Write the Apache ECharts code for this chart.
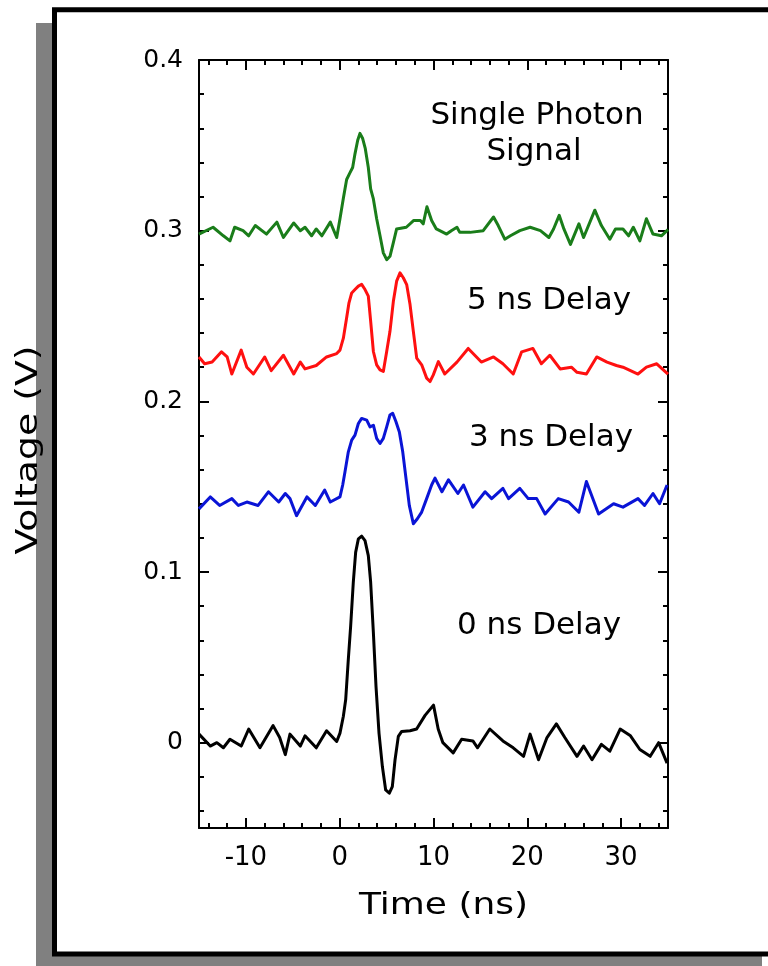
<!DOCTYPE html>
<html>
<head>
<meta charset="utf-8">
<script src="https://cdn.jsdelivr.net/npm/echarts@6/dist/echarts.min.js"></script>
<style>
html,body{margin:0;padding:0;background:#fff;}
#chart{width:768px;height:966px;}
</style>
</head>
<body>
<div id="chart"></div>
<script>
// ---- data (time in ns, voltage in V) ----
const singlePhoton = [
[-15,0.298],[-13.5,0.302],[-12.4,0.297],[-11.7,0.294],[-11.2,0.302],[-10.3,0.300],[-9.7,0.297],[-9.0,0.303],
[-7.8,0.298],[-6.7,0.305],[-6.0,0.296],[-4.9,0.3045],[-4.2,0.300],[-3.7,0.302],[-3.0,0.297],[-2.5,0.301],
[-1.9,0.297],[-1.0,0.305],[-0.32,0.296],[0.03,0.307],[0.39,0.319],[0.74,0.330],[1.10,0.334],[1.38,0.337],
[1.63,0.345],[1.92,0.353],[2.16,0.357],[2.45,0.354],[2.73,0.348],[3.05,0.337],[3.30,0.3245],[3.59,0.3186],
[3.94,0.307],[4.30,0.297],[4.65,0.287],[5.01,0.283],[5.36,0.285],[5.72,0.293],[6.07,0.301],
[7.1,0.302],[7.9,0.306],[8.6,0.306],[8.9,0.304],[9.3,0.314],[9.8,0.306],[10.3,0.301],[11.4,0.298],
[11.9,0.300],[12.5,0.302],[12.8,0.299],[13.9,0.299],[15.3,0.300],[16.4,0.308],[16.9,0.303],[17.6,0.295],
[18.2,0.297],[19.2,0.300],[20.3,0.302],[21.4,0.300],[22.3,0.296],[22.8,0.301],[23.4,0.309],[23.9,0.301],
[24.6,0.292],[25.5,0.304],[26.0,0.296],[27.2,0.312],[27.9,0.303],[28.8,0.295],[29.4,0.301],[30.2,0.301],
[30.8,0.297],[31.3,0.302],[32.0,0.294],[32.7,0.307],[33.4,0.298],[34.3,0.297],[35.0,0.3006]
];
const delay5 = [
[-15,0.226],[-14.4,0.222],[-13.6,0.223],[-12.6,0.229],[-12.0,0.226],[-11.5,0.216],[-10.5,0.230],[-9.9,0.220],
[-9.2,0.216],[-8.0,0.226],[-7.3,0.218],[-6.0,0.227],[-4.9,0.216],[-4.2,0.223],[-3.7,0.219],[-2.5,0.221],
[-1.4,0.226],[-0.32,0.228],[0.03,0.230],[0.39,0.237],[0.74,0.249],[0.99,0.2577],[1.28,0.2635],[1.63,0.2655],
[1.99,0.2675],[2.34,0.2685],[2.70,0.2655],[3.05,0.2616],[3.30,0.247],[3.59,0.2292],[3.94,0.2214],[4.30,0.2184],
[4.65,0.2175],[5.01,0.2292],[5.36,0.241],[5.72,0.2586],[6.07,0.2704],[6.43,0.2753],[6.78,0.2724],[7.14,0.2684],
[7.50,0.2567],[7.85,0.241],[8.21,0.2253],[8.74,0.2214],[9.27,0.2136],[9.63,0.2116],[9.98,0.2155],[10.52,0.2233],
[11.2,0.216],[12.5,0.223],[13.7,0.231],[15.1,0.223],[16.4,0.226],
[17.4,0.222],[18.5,0.216],[19.4,0.229],[20.6,0.231],[21.5,0.222],[22.4,0.227],[23.5,0.219],[24.7,0.220],
[25.3,0.217],[26.3,0.216],[27.4,0.226],[28.5,0.223],[29.5,0.221],[30.2,0.220],[31.8,0.216],[32.7,0.220],
[33.8,0.222],[35.0,0.216]
];
const delay3 = [
[-15,0.137],[-13.8,0.144],[-12.8,0.139],[-11.5,0.143],[-10.8,0.139],[-9.9,0.141],[-8.7,0.139],[-7.6,0.147],
[-6.5,0.141],[-5.8,0.146],[-5.3,0.143],[-4.6,0.133],[-3.5,0.144],[-2.6,0.139],[-1.6,0.148],[-1.0,0.141],
[0.03,0.144],[0.32,0.151],[0.56,0.1586],[0.92,0.1704],[1.28,0.1773],[1.63,0.1802],[1.99,0.187],[2.34,0.190],
[2.88,0.189],[3.23,0.185],[3.59,0.186],[3.94,0.1783],[4.30,0.1753],[4.65,0.1783],[5.01,0.185],[5.36,0.192],
[5.65,0.193],[6.00,0.188],[6.36,0.182],[6.72,0.1704],[7.07,0.1547],[7.42,0.139],[7.85,0.1283],[8.28,0.1312],
[8.74,0.1351],[9.27,0.143],[9.80,0.151],[10.16,0.155],[10.9,0.147],[11.6,0.154],[12.6,0.146],
[13.2,0.151],[14.2,0.138],[15.5,0.147],[16.2,0.143],[17.4,0.149],[18.0,0.143],[19.2,0.149],[20.1,0.143],
[21.0,0.143],[21.9,0.134],[23.3,0.143],[24.4,0.141],[25.5,0.135],[26.3,0.153],[27.6,0.134],[29.2,0.140],
[30.2,0.138],[31.8,0.143],[32.5,0.139],[33.4,0.146],[34.1,0.140],[34.9,0.151]
];
const delay0 = [
[-15,0.005],[-13.8,-0.002],[-13.1,0.000],[-12.4,-0.003],[-11.7,0.002],[-10.5,-0.002],[-9.7,0.008],[-8.5,-0.003],
[-7.1,0.010],[-6.4,0.003],[-5.8,-0.007],[-5.3,0.005],[-4.2,-0.002],[-3.7,0.004],[-2.5,-0.003],[-1.4,0.007],
[-0.32,0.0007],[0.03,0.0056],[0.39,0.0155],[0.64,0.0253],[0.92,0.049],[1.17,0.0684],[1.45,0.094],[1.70,0.1115],
[1.99,0.1194],[2.34,0.121],[2.70,0.1184],[3.05,0.1096],[3.30,0.094],[3.59,0.0645],[3.87,0.033],[4.19,0.0056],
[4.55,-0.014],[4.90,-0.0277],[5.29,-0.0296],[5.61,-0.0257],[5.90,-0.010],[6.25,0.0037],[6.61,0.0066],
[7.5,0.007],[8.2,0.008],[9.1,0.016],[10.0,0.022],[10.5,0.008],[11.0,0.000],[12.1,-0.006],[13.0,0.002],[14.2,0.001],[14.7,-0.003],
[16.0,0.008],[17.4,0.001],[18.5,-0.003],[19.6,-0.008],[20.3,0.005],[21.2,-0.010],[22.1,0.003],[23.1,0.011],
[24.0,0.003],[25.3,-0.008],[26.0,-0.002],[26.9,-0.010],[27.9,-0.001],[28.8,-0.005],[29.9,0.008],[31.0,0.004],
[32.0,-0.004],[33.1,-0.008],[34.0,0.000],[34.9,-0.012]
];

// ---- ticks / labels ----
const xMajorTicks = [-10, 0, 10, 20, 30];
const xMinorTicks = [-14,-12,-10,-8,-6,-4,-2,0,2,4,6,8,10,12,14,16,18,20,22,24,26,28,30,32,34];
const yMajorTicks = [0, 0.1, 0.2, 0.3, 0.4];
const yMinorTicks = [-0.04,-0.02,0,0.02,0.04,0.06,0.08,0.1,0.12,0.14,0.16,0.18,0.2,0.22,0.24,0.26,0.28,0.3,0.32,0.34,0.36,0.38,0.4];
const annotations = [
  {text: 'Single Photon', x: 537, y: 116},
  {text: 'Signal', x: 534, y: 152},
  {text: '5 ns Delay', x: 549, y: 301},
  {text: '3 ns Delay', x: 551, y: 438},
  {text: '0 ns Delay', x: 539, y: 626}
];
const xTitle = 'Time (ns)';
const yTitle = 'Voltage (V)';

const FONT = 'DejaVu Sans';
const X_MIN = -15, X_MAX = 35, Y_MIN = -0.05, Y_MAX = 0.4;

function xAx(pos, ticks, len, line, labels) {
  return {
    type: 'value', position: pos, min: X_MIN, max: X_MAX,
    axisLine: {show: line, onZero: false, lineStyle: {color: '#000', width: 2}},
    axisTick: {show: true, inside: true, length: len, customValues: ticks, lineStyle: {color: '#000', width: 2}},
    axisLabel: labels ? {show: true, customValues: xMajorTicks, margin: 17, color: '#000', fontFamily: FONT, fontSize: 26} : {show: false},
    splitLine: {show: false}
  };
}
function yAx(pos, ticks, len, line, labels) {
  return {
    type: 'value', position: pos, min: Y_MIN, max: Y_MAX,
    axisLine: {show: line, onZero: false, lineStyle: {color: '#000', width: 2}},
    axisTick: {show: true, inside: true, length: len, customValues: ticks, lineStyle: {color: '#000', width: 2}},
    axisLabel: labels ? {show: true, customValues: yMajorTicks, margin: 16, color: '#000', fontFamily: FONT, fontSize: 25} : {show: false},
    splitLine: {show: false}
  };
}

const chart = echarts.init(document.getElementById('chart'), null, {renderer: 'canvas'});

const graphics = [
  {type: 'rect', z: -10, shape: {x: 36, y: 23, width: 726, height: 960}, style: {fill: '#808080'}},
  {type: 'rect', z: -9, shape: {x: 54.5, y: 9.8, width: 780, height: 944.2}, style: {fill: '#fff', stroke: '#000', lineWidth: 5}},
  {type: 'text', x: 443.5, y: 906, scaleX: 1.2, style: {text: xTitle, fontSize: 30, fontFamily: FONT, fill: '#000', align: 'center', verticalAlign: 'middle'}},
  {type: 'text', x: 29, y: 450, rotation: Math.PI / 2, scaleX: 1.26, style: {text: yTitle, fontSize: 30, fontFamily: FONT, fill: '#000', align: 'center', verticalAlign: 'middle'}}
];
annotations.forEach(a => graphics.push({type: 'text', x: a.x, y: a.y, style: {text: a.text, fontSize: 31, fontFamily: FONT, fill: '#000', align: 'center', verticalAlign: 'middle'}}));

function line(name, data, color) {
  return {name, type: 'line', data, xAxisIndex: 0, yAxisIndex: 0, showSymbol: false, symbol: 'none',
    lineStyle: {color, width: 3, join: 'round'}, itemStyle: {color}, animation: false, z: 3};
}

chart.setOption({
  backgroundColor: '#fff',
  animation: false,
  grid: {left: 199, top: 60, width: 469, height: 768, containLabel: false},
  graphic: graphics,
  xAxis: [
    xAx('bottom', xMajorTicks, 10, true, true),
    xAx('bottom', xMinorTicks, 5, false, false),
    xAx('top', xMajorTicks, 10, true, false),
    xAx('top', xMinorTicks, 5, false, false)
  ],
  yAxis: [
    yAx('left', yMajorTicks, 10, true, true),
    yAx('left', yMinorTicks, 5, false, false),
    yAx('right', yMajorTicks, 10, true, false),
    yAx('right', yMinorTicks, 5, false, false)
  ],
  series: [
    line('Single Photon Signal', singlePhoton, '#1a7d1a'),
    line('5 ns Delay', delay5, '#ff1010'),
    line('3 ns Delay', delay3, '#0a14d6'),
    line('0 ns Delay', delay0, '#000000')
  ]
});
</script>
</body>
</html>
